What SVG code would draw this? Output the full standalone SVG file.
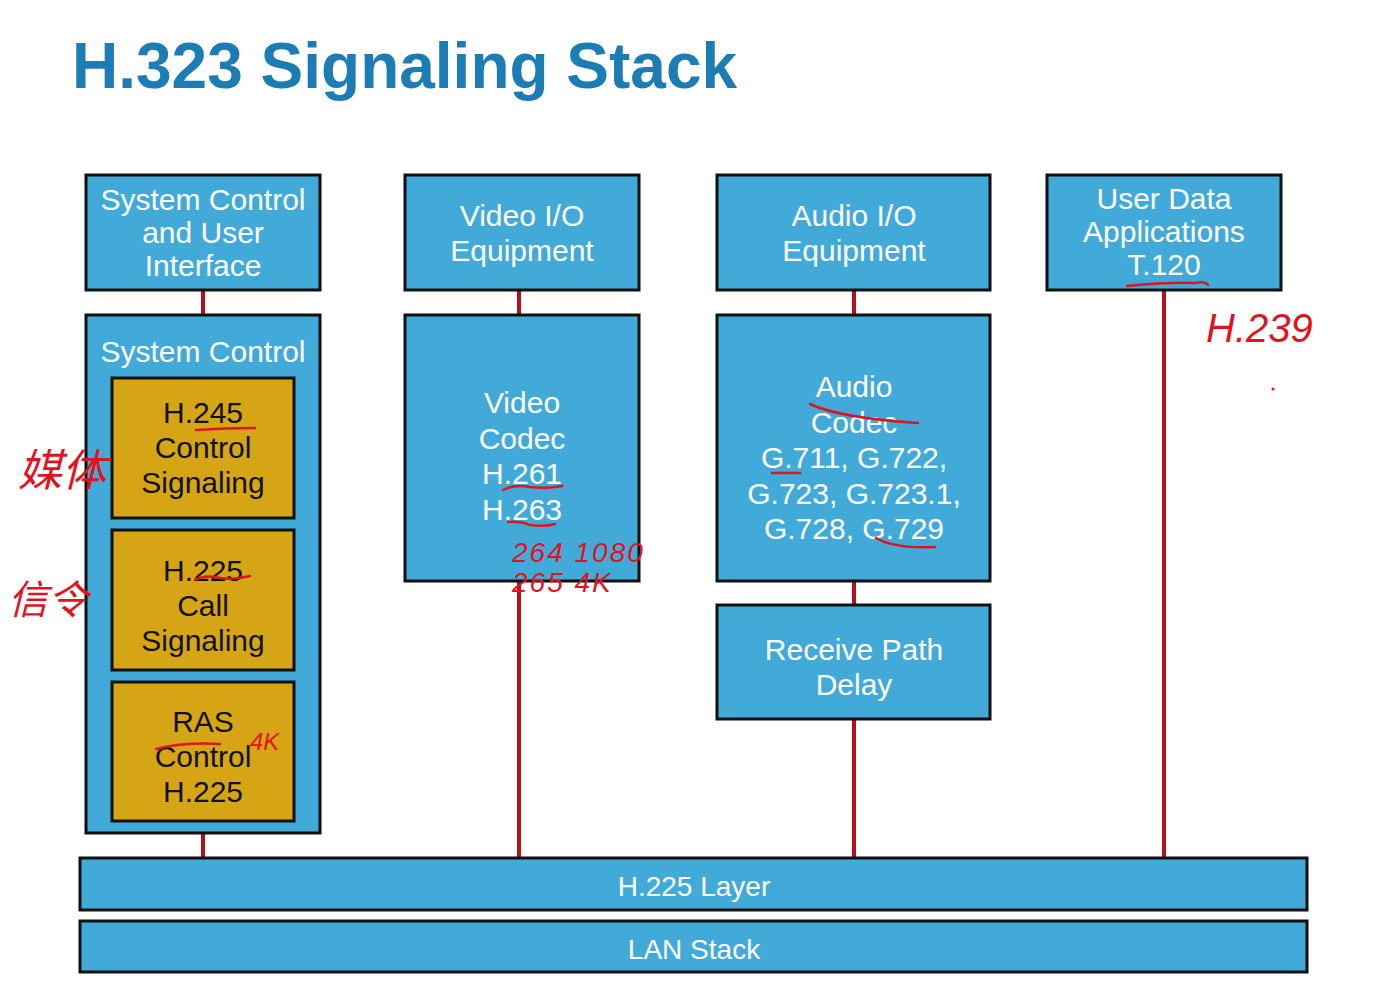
<svg xmlns="http://www.w3.org/2000/svg" width="1380" height="1008" viewBox="0 0 1380 1008">
<style>
.box{fill:#42aad9;stroke:#111;stroke-width:3}
.yel{fill:#d5a515;stroke:#111;stroke-width:3}
.wt{fill:#fff;font-family:"Liberation Sans",Arial,sans-serif;font-size:30px;text-anchor:middle}
.bt{fill:#111;font-family:"Liberation Sans",Arial,sans-serif;font-size:30px;text-anchor:middle}
.bar{fill:#fff;font-family:"Liberation Sans",Arial,sans-serif;font-size:28px;text-anchor:middle}
.conn line{stroke:#b80f1c;stroke-width:4}
.ink{fill:none;stroke:#e0141e;stroke-width:2.5;stroke-linecap:round}
.hw{fill:#e0141e;font-family:"Liberation Sans","Noto Sans CJK SC",sans-serif;font-style:italic}
</style>
<rect width="1380" height="1008" fill="#fff"/>
<text x="72" y="88" font-family="Liberation Sans,Arial,sans-serif" font-weight="bold" font-size="64" fill="#1b7db4">H.323 Signaling Stack</text>

<g id="connectors" class="conn">
<line x1="203" y1="290" x2="203" y2="315"/>
<line x1="203" y1="833" x2="203" y2="858"/>
<line x1="519" y1="290" x2="519" y2="315"/>
<line x1="519" y1="581" x2="519" y2="858"/>
<line x1="854" y1="290" x2="854" y2="315"/>
<line x1="854" y1="581" x2="854" y2="605"/>
<line x1="854" y1="719" x2="854" y2="858"/>
<line x1="1164" y1="290" x2="1164" y2="858"/>
</g>

<g id="sys-ui">
<rect class="box" x="86" y="175" width="234" height="115"/>
<text class="wt" x="203" y="210">System Control</text>
<text class="wt" x="203" y="243">and User</text>
<text class="wt" x="203" y="276">Interface</text>
</g>
<g id="video-io">
<rect class="box" x="405" y="175" width="234" height="115"/>
<text class="wt" x="522" y="226">Video I/O</text>
<text class="wt" x="522" y="261">Equipment</text>
</g>
<g id="audio-io">
<rect class="box" x="717" y="175" width="273" height="115"/>
<text class="wt" x="854" y="226">Audio I/O</text>
<text class="wt" x="854" y="261">Equipment</text>
</g>
<g id="user-data">
<rect class="box" x="1047" y="175" width="234" height="115"/>
<text class="wt" x="1164" y="209">User Data</text>
<text class="wt" x="1164" y="242">Applications</text>
<text class="wt" x="1164" y="275">T.120</text>
</g>
<g id="system-control">
<rect class="box" x="86" y="315" width="234" height="518"/>
<text class="wt" x="203" y="362">System Control</text>
</g>
<g id="h245">
<rect class="yel" x="112" y="378" width="182" height="140"/>
<text class="bt" x="203" y="423">H.245</text>
<text class="bt" x="203" y="458">Control</text>
<text class="bt" x="203" y="493">Signaling</text>
</g>
<g id="h225-call">
<rect class="yel" x="112" y="530" width="182" height="140"/>
<text class="bt" x="203" y="581">H.225</text>
<text class="bt" x="203" y="616">Call</text>
<text class="bt" x="203" y="651">Signaling</text>
</g>
<g id="ras">
<rect class="yel" x="112" y="682" width="182" height="139"/>
<text class="bt" x="203" y="732">RAS</text>
<text class="bt" x="203" y="767">Control</text>
<text class="bt" x="203" y="802">H.225</text>
</g>
<g id="video-codec">
<rect class="box" x="405" y="315" width="234" height="266"/>
<text class="wt" x="522" y="413">Video</text>
<text class="wt" x="522" y="449">Codec</text>
<text class="wt" x="522" y="484">H.261</text>
<text class="wt" x="522" y="520">H.263</text>
</g>
<g id="audio-codec">
<rect class="box" x="717" y="315" width="273" height="266"/>
<text class="wt" x="854" y="397">Audio</text>
<text class="wt" x="854" y="433">Codec</text>
<text class="wt" x="854" y="468">G.711, G.722,</text>
<text class="wt" x="854" y="504">G.723, G.723.1,</text>
<text class="wt" x="854" y="539">G.728, G.729</text>
</g>
<g id="receive-path">
<rect class="box" x="717" y="605" width="273" height="114"/>
<text class="wt" x="854" y="660">Receive Path</text>
<text class="wt" x="854" y="695">Delay</text>
</g>
<g id="h225-layer">
<rect class="box" x="80" y="858" width="1227" height="52"/>
<text class="bar" x="694" y="896">H.225 Layer</text>
</g>
<g id="lan-stack">
<rect class="box" x="80" y="921" width="1227" height="51"/>
<text class="bar" x="694" y="959">LAN Stack</text>
</g>

<g id="annotations">
<path class="ink" d="M196 430 Q225 428 255 428"/>
<path class="ink" d="M195 580 Q205 574 220 578 Q235 580 250 576"/>
<path class="ink" d="M156 749 Q185 742 220 744"/>
<path class="ink" d="M503 490 Q515 484 530 487 Q548 489 562 486"/>
<path class="ink" d="M508 522 Q520 521 530 525 Q545 527 555 524"/>
<path class="ink" d="M810 404 Q840 418 918 423"/>
<path class="ink" d="M772 473 L800 473"/>
<path class="ink" d="M876 538 Q895 549 935 547"/>
<path class="ink" d="M1127 286 Q1170 282 1195 283 Q1205 281 1208 285"/>
<circle cx="1273" cy="389" r="1.5" fill="#e0141e"/>
<text class="hw" x="18" y="486" font-size="44">媒体</text>
<text class="hw" x="8" y="614" font-size="40">信令</text>
<text class="hw" x="250" y="750" font-size="24">4K</text>
<text class="hw" x="512" y="562" font-size="28" letter-spacing="2">264 1080</text>
<text class="hw" x="512" y="592" font-size="28" letter-spacing="2">265  4K</text>
<text class="hw" x="1206" y="342" font-size="40">H.239</text>
</g>
</svg>
